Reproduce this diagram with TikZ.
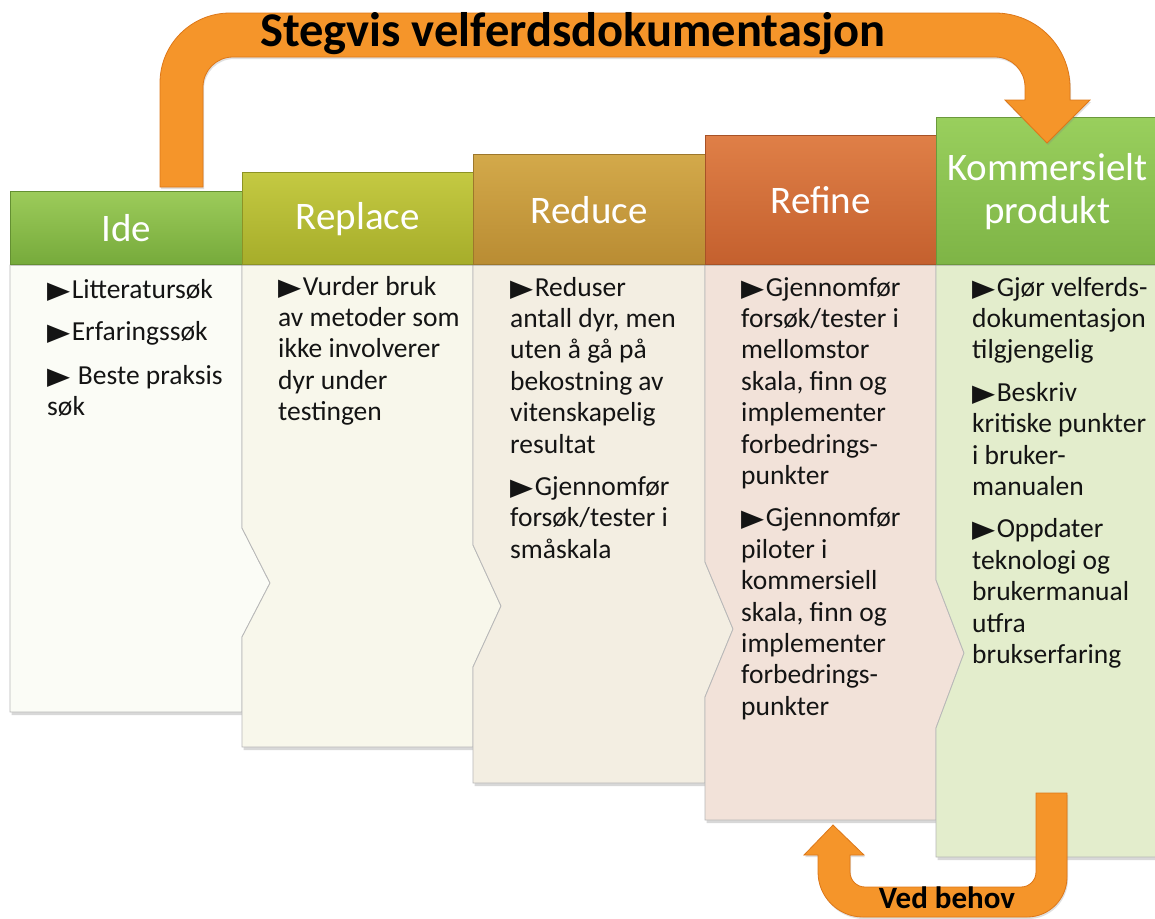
\documentclass[tikz,border=0pt]{standalone}
\usepackage{fontspec}
\usepackage{graphicx}
\setmainfont{Carlito}
\newfontfamily\symfont{DejaVu Sans}
\usetikzlibrary{shadows}
\definecolor{hAt}{HTML}{9CCB5A}\definecolor{hAb}{HTML}{76AA3B}
\definecolor{hBt}{HTML}{C4C942}\definecolor{hBb}{HTML}{A6AD2A}
\definecolor{hCt}{HTML}{D3A94A}\definecolor{hCb}{HTML}{B98C33}
\definecolor{hDt}{HTML}{DF7F47}\definecolor{hDb}{HTML}{C4602E}
\definecolor{hEt}{HTML}{99CF5D}\definecolor{hEb}{HTML}{7EB446}
\definecolor{bA}{HTML}{FBFCF6}\definecolor{bB}{HTML}{F8F7EB}
\definecolor{bC}{HTML}{F3EEE2}\definecolor{bD}{HTML}{F2E2D9}
\definecolor{bE}{HTML}{E3EDCC}
\definecolor{orng}{HTML}{F5952A}\definecolor{orngd}{HTML}{DD7718}
\newcommand{\tri}{{\symfont\fontsize{24}{24}\selectfont\scalebox{1.25}[1]{▶}}\hspace{1.5pt}}
\begin{document}
\begin{tikzpicture}[x=1pt,y=-1pt,
  body/.style={fill=#1, draw=black!28, line width=0.8pt,
    drop shadow={shadow xshift=1.5pt, shadow yshift=-3pt, opacity=0.3}},
  hdr/.style n args={2}{anchor=south west, inner sep=0pt, align=center, text=white,
    font=\fontsize{39}{43}\selectfont, top color=#1, bottom color=#2, draw=#2!85!black,
    line width=0.6pt, drop shadow={shadow xshift=1pt, shadow yshift=-1.5pt, opacity=0.25}},
  bodytxt/.style={anchor=north west, inner sep=0pt, align=left, text=black!92,
    font=\fontsize{27.5}{31.4}\selectfont},
  orangearrow/.style={fill=orng, draw=orngd, line width=0.8pt,
    drop shadow={shadow xshift=1pt, shadow yshift=-2pt, opacity=0.25}}]
\fill[white] (0,0) rectangle (1155,918);
\useasboundingbox (0,0) rectangle (1155,918);
% bodies
\path[body=bA] (10,265) -- (242,265) -- (242,528) -- (270,583) -- (242,637) -- (242,712) -- (10,712) -- cycle;
\path[body=bB] (242,265) -- (473,265) -- (473,545) -- (501,606) -- (473,667) -- (473,747) -- (242,747) -- (242,637) -- (270,583) -- (242,528) -- cycle;
\path[body=bC] (473,265) -- (705,265) -- (705,562) -- (733,629) -- (705,697) -- (705,783) -- (473,783) -- (473,667) -- (501,606) -- (473,545) -- cycle;
\path[body=bD] (705,265) -- (936,265) -- (936,580) -- (964,653) -- (936,728) -- (936,820) -- (705,820) -- (705,697) -- (733,629) -- (705,562) -- cycle;
\path[body=bE] (936,265) -- (1158,265) -- (1158,857) -- (936,857) -- (936,728) -- (964,653) -- (936,580) -- cycle;
% headers
\node[hdr={hAt}{hAb}, minimum width=232pt, minimum height=73pt] (h1) at (10,265) {Ide};
\node[hdr={hBt}{hBb}, minimum width=231pt, minimum height=92pt] (h2) at (242,265) {Replace};
\node[hdr={hCt}{hCb}, minimum width=232pt, minimum height=110pt] (h3) at (473,265) {Reduce};
\node[hdr={hDt}{hDb}, minimum width=231pt, minimum height=129pt] (h4) at (705,265) {Refine};
\node[hdr={hEt}{hEb}, minimum width=222pt, minimum height=147pt] (h5) at (936,265) {Kommersielt\\produkt};
% body texts
\node[bodytxt] (t1) at (47,276) {\strut\tri Litteratursøk\\[11pt]\tri Erfaringssøk\\[12.5pt]\tri{} Beste praksis\\søk};
\node[bodytxt] (t2) at (278,273) {\strut\tri Vurder bruk\\av metoder som\\ikke involverer\\dyr under\\testingen};
\node[bodytxt] (t3) at (510,274) {\strut\tri Reduser\\antall dyr, men\\uten å gå på\\bekostning av\\vitenskapelig\\resultat\\[11pt]\tri Gjennomfør\\forsøk/tester i\\småskala};
\node[bodytxt] (t4) at (741,274) {\strut\tri Gjennomfør\\forsøk/tester i\\mellomstor\\skala, finn og\\implementer\\forbedrings-\\punkter\\[11pt]\tri Gjennomfør\\piloter i\\kommersiell\\skala, finn og\\implementer\\forbedrings-\\punkter};
\node[bodytxt] (t5) at (972,274) {\strut\tri Gjør velferds-\\dokumentasjon\\tilgjengelig\\[11pt]\tri Beskriv\\kritiske punkter\\i bruker-\\manualen\\[11pt]\tri Oppdater\\teknologi og\\brukermanual\\utfra\\brukserfaring};
% top arrow
\path[orangearrow] (160,187) -- (160,83) arc[start angle=180, end angle=270, radius=70] -- (995,13) arc[start angle=270, end angle=360, radius=75] -- (1070,100) -- (1090,100) -- (1047,143) -- (1005,100) -- (1025,100) -- (1025,87) arc[start angle=0, end angle=-90, radius=30] -- (233,57) arc[start angle=270, end angle=180, radius=30] -- (203,187) -- cycle;
\node[anchor=base, font=\bfseries\fontsize{48.5}{48.5}\selectfont] (title) at (573,46) {Stegvis velferdsdokumentasjon};
% bottom arrow
\path[orangearrow] (1036,793) -- (1067,793) -- (1067,877) arc[start angle=0, end angle=90, radius=40] -- (863,917) arc[start angle=90, end angle=180, radius=45] -- (818,855) -- (804,855) -- (833,825) -- (864,855) -- (850,855) -- (850,872) arc[start angle=180, end angle=90, radius=15] -- (1021,887) arc[start angle=90, end angle=0, radius=15] -- cycle;
\node[anchor=base, font=\bfseries\fontsize{31}{31}\selectfont] (vb) at (947,908) {Ved behov};
\end{tikzpicture}
\end{document}
